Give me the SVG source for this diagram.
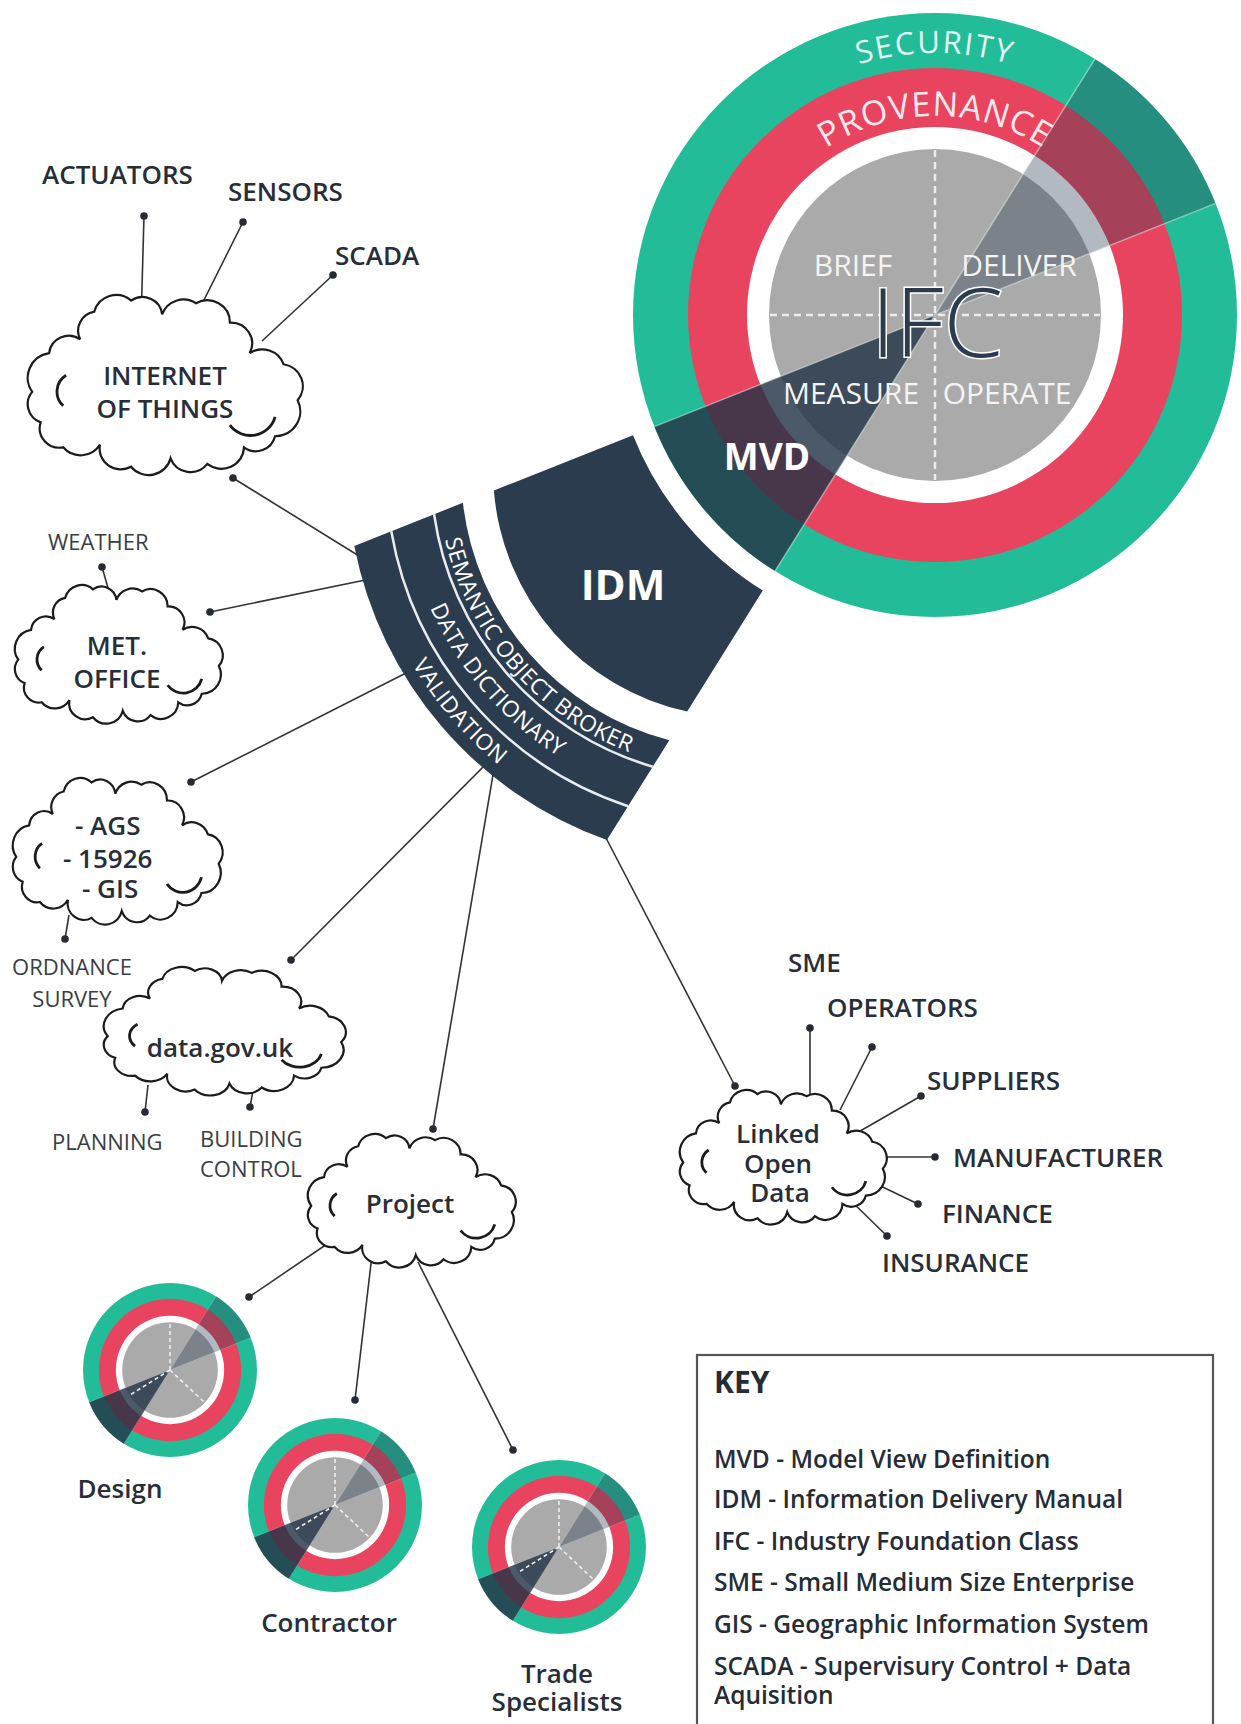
<svg xmlns="http://www.w3.org/2000/svg" width="1241" height="1724" viewBox="0 0 1241 1724">
<style>
text{font-family:"Open Sans","Liberation Sans",sans-serif;}
.lbl{font-size:26px;font-weight:600;fill:#272e38;}
.mid{text-anchor:middle;}
.sub{font-size:22px;font-weight:400;fill:#3a3d42;}
.ln{stroke:#333;stroke-width:1.6;fill:none;}
.dot{fill:#262b33;}
.cloud{fill:#fff;stroke:#1b1b1b;stroke-width:2.2;}
.acc{fill:none;stroke:#1b1b1b;stroke-width:2.8;}
.navy{fill:#2c3c4f;}
.wl{fill:none;stroke:#e8ecef;stroke-width:2.5;}
.band{font-size:22.5px;fill:#fff;letter-spacing:0.4px;}
.q{font-size:30px;fill:#f4f4f4;}
.key{font-size:24.5px;font-weight:600;fill:#262c35;}
.dash{stroke:#ececec;stroke-width:2.5;stroke-dasharray:7 5;}
.sdash{stroke:#eeeeee;stroke-width:1.6;stroke-dasharray:4 3;}
</style>
<defs>
<path id="cloudShape" vector-effect="non-scaling-stroke" d="M8,72 A18,18 0 0 1 20,44 A14,14 0 0 1 42,34 A14,14 0 0 1 52,14 A16,16 0 0 1 78,6 A14,14 0 0 1 100,16 A16,16 0 0 1 124,8 A16,16 0 0 1 148,22 A15,15 0 0 1 162,44 A16,16 0 0 1 186,52 A16,16 0 0 1 196,78 A18,18 0 0 1 180,104 A14,14 0 0 1 158,112 A16,16 0 0 1 132,124 A15,15 0 0 1 106,120 A16,16 0 0 1 78,126 A15,15 0 0 1 56,110 A16,16 0 0 1 30,112 A14,14 0 0 1 14,94 A14,14 0 0 1 8,72 Z"/>
<path id="cloudAcc" vector-effect="non-scaling-stroke" d="M32,60 A14,14 0 0 0 30,82 M148,96 A18,18 0 0 0 180,90"/>
<g id="disc">
<circle r="302" fill="#22bc98"/>
<circle r="247" fill="#e9445f"/>
<circle r="188" fill="#ffffff"/>
<circle r="166" fill="#aaaaaa"/>
<path d="M0,0 L160,-256.1 A302,302 0 0 1 280.6,-111.6 Z" fill="#2c3e50" opacity="0.36"/>
<path d="M0,0 L-160,256.1 A302,302 0 0 1 -280.6,111.6 Z" fill="#243447" opacity="0.82"/>
<path d="M280.6,-111.6 L-280.6,111.6 M160,-256.1 L-160,256.1" stroke="#dff3ee" stroke-width="1.5" opacity="0.5" fill="none"/>
</g>
<path id="secArc" d="M673,315 A262,262 0 0 1 1197,315"/>
<path id="provArc" d="M736,315 A199,199 0 0 1 1134,315"/>
<path id="tpSob" d="M439.9,512.0 A302,302 0 0 0 656.0,761.5"/>
<path id="tpDd" d="M405.5,525.7 A340,340 0 0 0 636.2,793.1"/>
<path id="tpVal" d="M365.7,541.6 A382,382 0 0 0 613.4,829.7"/>
</defs>

<g id="connectors">
<path class="ln" d="M372,564 L233,478"/>
<path class="ln" d="M380,577 L210,612"/>
<path class="ln" d="M410,671 L191,782"/>
<path class="ln" d="M500,750 L291,960"/>
<path class="ln" d="M496,757 L433,1129"/>
<path class="ln" d="M605,836 L735,1086"/>
<path class="ln" d="M141.5,305 L144,216"/>
<path class="ln" d="M200,308 L243,222"/>
<path class="ln" d="M262,341 L333,275"/>
<path class="ln" d="M110,595 L102,567"/>
<path class="ln" d="M69,915 L65,939"/>
<path class="ln" d="M148,1085 L145,1112"/>
<path class="ln" d="M254,1085 L250,1107"/>
<path class="ln" d="M810,1100 L810,1028"/>
<path class="ln" d="M840,1110 L872,1047"/>
<path class="ln" d="M855,1134 L921,1096"/>
<path class="ln" d="M876,1157 L935,1157"/>
<path class="ln" d="M866,1179 L918,1204"/>
<path class="ln" d="M845,1195 L887,1236"/>
<path class="ln" d="M330,1242 L249,1297"/>
<path class="ln" d="M372,1255 L355,1400"/>
<path class="ln" d="M418,1262 L513,1450"/>
<g class="dot">
<circle cx="233" cy="478" r="3.8"/><circle cx="210" cy="612" r="3.8"/><circle cx="191" cy="782" r="3.8"/>
<circle cx="291" cy="960" r="3.8"/><circle cx="433" cy="1129" r="3.8"/><circle cx="735" cy="1086" r="3.8"/>
<circle cx="144" cy="216" r="3.8"/><circle cx="243" cy="222" r="3.8"/><circle cx="333" cy="275" r="3.8"/>
<circle cx="102" cy="567" r="3.8"/><circle cx="65" cy="939" r="3.8"/><circle cx="145" cy="1112" r="3.8"/>
<circle cx="250" cy="1107" r="3.8"/><circle cx="810" cy="1028" r="3.8"/><circle cx="872" cy="1047" r="3.8"/>
<circle cx="921" cy="1096" r="3.8"/><circle cx="935" cy="1157" r="3.8"/><circle cx="918" cy="1204" r="3.8"/>
<circle cx="887" cy="1236" r="3.8"/><circle cx="249" cy="1297" r="3.8"/><circle cx="355" cy="1400" r="3.8"/>
<circle cx="513" cy="1450" r="3.8"/>
</g>
</g>

<g id="iot">
<use href="#cloudShape" class="cloud" transform="translate(20.9,292.2) scale(1.412,1.385)"/>
<use href="#cloudAcc" class="acc" transform="translate(20.9,292.2) scale(1.412,1.385)"/>
<text class="lbl mid" x="165" y="385">INTERNET</text>
<text class="lbl mid" x="165" y="418">OF THINGS</text>
</g>
<g id="actuators"><text class="lbl" x="42" y="184">ACTUATORS</text></g>
<g id="sensors"><text class="lbl" x="228" y="201">SENSORS</text></g>
<g id="scada"><text class="lbl" x="335" y="265">SCADA</text></g>

<g id="metoffice">
<use href="#cloudShape" class="cloud" transform="translate(9.7,582.9) scale(1.067,1.066)"/>
<use href="#cloudAcc" class="acc" transform="translate(9.7,582.9) scale(1.067,1.066)"/>
<text class="lbl mid" x="117" y="655">MET.</text>
<text class="lbl mid" x="117" y="688">OFFICE</text>
</g>
<g id="weather"><text class="sub" x="48" y="550">WEATHER</text></g>

<g id="ags">
<use href="#cloudShape" class="cloud" transform="translate(7.6,775.7) scale(1.077,1.128)"/>
<use href="#cloudAcc" class="acc" transform="translate(7.6,775.7) scale(1.077,1.128)"/>
<text class="lbl" x="75" y="835">- AGS</text>
<text class="lbl" x="63" y="868">- 15926</text>
<text class="lbl" x="82" y="898">- GIS</text>
</g>
<g id="ordnance"><text class="sub mid" x="72" y="975">ORDNANCE</text><text class="sub mid" x="72" y="1007">SURVEY</text></g>

<g id="datagov">
<use href="#cloudShape" class="cloud" transform="translate(97.8,965) scale(1.242,0.988)"/>
<use href="#cloudAcc" class="acc" transform="translate(97.8,965) scale(1.242,0.988)"/>
<text class="lbl mid" x="220" y="1057">data.gov.uk</text>
</g>
<g id="planning"><text class="sub" x="52" y="1150">PLANNING</text></g>
<g id="building"><text class="sub" x="200" y="1147">BUILDING</text><text class="sub" x="200" y="1177">CONTROL</text></g>

<g id="project">
<use href="#cloudShape" class="cloud" transform="translate(302.7,1131.9) scale(1.067,1.027)"/>
<use href="#cloudAcc" class="acc" transform="translate(302.7,1131.9) scale(1.067,1.027)"/>
<text class="lbl mid" x="410" y="1213">Project</text>
</g>

<g id="lod">
<use href="#cloudShape" class="cloud" transform="translate(674.7,1087.9) scale(1.062,1.035)"/>
<use href="#cloudAcc" class="acc" transform="translate(674.7,1087.9) scale(1.062,1.035)"/>
<text class="lbl mid" x="778" y="1143">Linked</text>
<text class="lbl mid" x="778" y="1173">Open</text>
<text class="lbl mid" x="780" y="1202">Data</text>
</g>
<g id="sme"><text class="lbl" x="788" y="972">SME</text></g>
<g id="operators"><text class="lbl" x="827" y="1017">OPERATORS</text></g>
<g id="suppliers"><text class="lbl" x="927" y="1090">SUPPLIERS</text></g>
<g id="manufacturer"><text class="lbl" x="953" y="1167">MANUFACTURER</text></g>
<g id="finance"><text class="lbl" x="942" y="1223">FINANCE</text></g>
<g id="insurance"><text class="lbl" x="882" y="1272">INSURANCE</text></g>

<g id="sob-block">
<path class="navy" d="M354.3,546.1 L462.9,502.8 A278,278 0 0 0 669.3,740.2 L606.9,840.1 A392,392 0 0 1 354.3,546.1 Z"/>
<path class="wl" d="M434.1,514.3 A308,308 0 0 0 652.7,766.7"/>
<path class="wl" d="M391.3,531.3 A353,353 0 0 0 628.1,806.2"/>
<text class="band"><textPath href="#tpSob" startOffset="50%" text-anchor="middle">SEMANTIC OBJECT BROKER</textPath></text>
<text class="band"><textPath href="#tpDd" startOffset="50%" text-anchor="middle">DATA DICTIONARY</textPath></text>
<text class="band"><textPath href="#tpVal" startOffset="50%" text-anchor="middle">VALIDATION</textPath></text>
</g>

<g id="idm">
<path class="navy" d="M493.9,490.5 L633.0,435.2 A325,325 0 0 0 762.8,590.6 L687.2,711.5 A246,246 0 0 1 493.9,490.5 Z"/>
<text x="623" y="600" text-anchor="middle" font-size="42" font-weight="700" fill="#fff">IDM</text>
</g>

<g id="ifc">
<use href="#disc" transform="translate(935,315)"/>
<line class="dash" x1="935" y1="150" x2="935" y2="480"/>
<line class="dash" x1="770" y1="315" x2="1100" y2="315"/>
<text font-size="31" fill="#e3f8f1" letter-spacing="2"><textPath href="#secArc" startOffset="50%" text-anchor="middle">SECURITY</textPath></text>
<text font-size="34" fill="#fde9ed" letter-spacing="1"><textPath href="#provArc" startOffset="50%" text-anchor="middle">PROVENANCE</textPath></text>
<text class="q mid" x="853" y="276">BRIEF</text>
<text class="q mid" x="1019" y="276">DELIVER</text>
<text class="q mid" x="851" y="404">MEASURE</text>
<text class="q mid" x="1007" y="404">OPERATE</text>
<text x="937" y="357" text-anchor="middle" font-size="96" font-weight="300" fill="#2c3c4f" stroke="#ffffff" stroke-width="3" paint-order="stroke">IFC</text>
<text x="767" y="470" text-anchor="middle" font-size="37" font-weight="700" fill="#fff">MVD</text>
</g>

<g id="design">
<use href="#disc" transform="translate(170,1370) scale(0.288)"/>
<g transform="translate(170,1370)"><path class="sdash" d="M0,0 L0,-48 M0,0 L34,32 M0,0 L-40,25"/></g>
<text class="lbl mid" x="120" y="1498">Design</text>
</g>
<g id="contractor">
<use href="#disc" transform="translate(335,1505) scale(0.288)"/>
<g transform="translate(335,1505)"><path class="sdash" d="M0,0 L0,-48 M0,0 L34,32 M0,0 L-40,25"/></g>
<text class="lbl mid" x="329" y="1632">Contractor</text>
</g>
<g id="trade">
<use href="#disc" transform="translate(559,1547) scale(0.288)"/>
<g transform="translate(559,1547)"><path class="sdash" d="M0,0 L0,-48 M0,0 L34,32 M0,0 L-40,25"/></g>
<text class="lbl mid" x="557" y="1683">Trade</text>
<text class="lbl mid" x="557" y="1711">Specialists</text>
</g>

<g id="key">
<rect x="697" y="1355" width="516" height="400" fill="none" stroke="#555" stroke-width="2.2"/>
<text x="714" y="1393" font-size="30" font-weight="700" fill="#262c35">KEY</text>
<text class="key" x="714" y="1468">MVD - Model View Definition</text>
<text class="key" x="714" y="1508">IDM - Information Delivery Manual</text>
<text class="key" x="714" y="1550">IFC - Industry Foundation Class</text>
<text class="key" x="714" y="1591">SME - Small Medium Size Enterprise</text>
<text class="key" x="714" y="1633">GIS - Geographic Information System</text>
<text class="key" x="714" y="1675">SCADA - Supervisury Control + Data</text>
<text class="key" x="714" y="1704">Aquisition</text>
</g>
</svg>
